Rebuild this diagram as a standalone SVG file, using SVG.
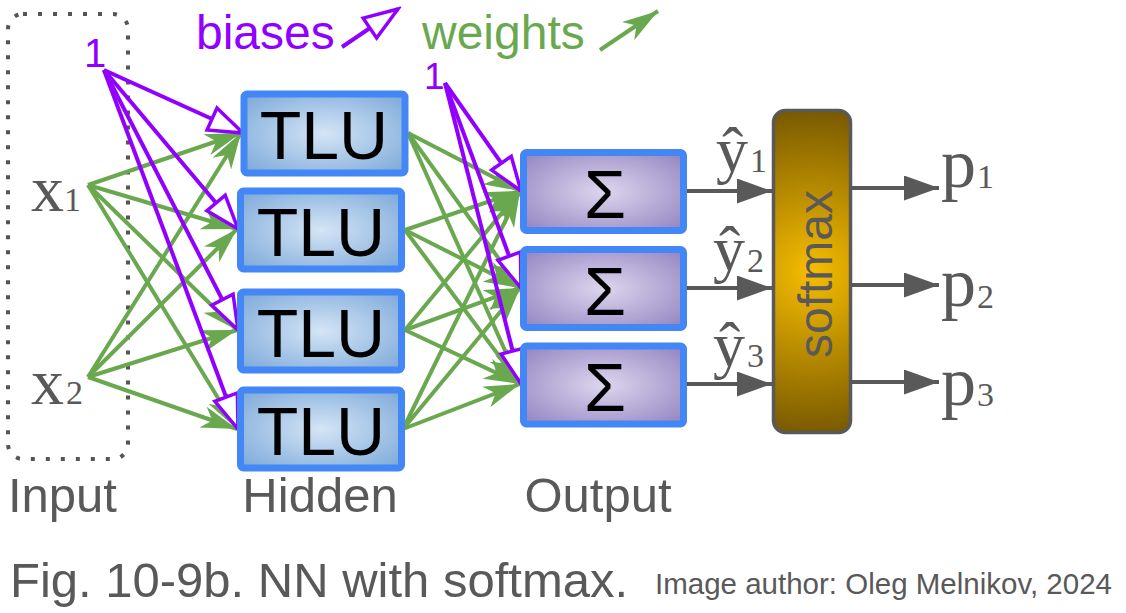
<svg xmlns="http://www.w3.org/2000/svg" width="1126" height="613" viewBox="0 0 1126 613">
<defs>
<radialGradient id="gTLU" cx="0.5" cy="0.5" r="0.75">
<stop offset="0" stop-color="#d4e5f6"/><stop offset="1" stop-color="#74a3d6"/>
</radialGradient>
<radialGradient id="gSig" cx="0.5" cy="0.5" r="0.75">
<stop offset="0" stop-color="#ddd6ee"/><stop offset="1" stop-color="#8c7dbd"/>
</radialGradient>
<radialGradient id="gSoft" gradientUnits="userSpaceOnUse" cx="812" cy="272" r="170">
<stop offset="0" stop-color="#f7bd00"/><stop offset="1" stop-color="#735500"/>
</radialGradient>
<marker id="mg" markerUnits="userSpaceOnUse" viewBox="0 0 36 22" markerWidth="36" markerHeight="22" refX="36" refY="11" orient="auto">
<path d="M0,0 L36,11 L0,22 L10,11 Z" fill="#6aa84f"/>
</marker>
<marker id="mb" markerUnits="userSpaceOnUse" viewBox="-4 -4 42 32" markerWidth="42" markerHeight="32" refX="34" refY="12" orient="auto">
<path d="M0,0 L34,12 L0,24 Z" fill="#fff" stroke="#9100ff" stroke-width="3.5"/>
</marker>
<marker id="ma" markerUnits="userSpaceOnUse" viewBox="0 0 35 25" markerWidth="35" markerHeight="25" refX="35" refY="12.5" orient="auto">
<path d="M0,0 L35,12.5 L0,25 Z" fill="#595959"/>
</marker>
</defs>
<style>
.w{stroke:#6aa84f;stroke-width:4;fill:none;marker-end:url(#mg)}
.b{stroke:#9100ff;stroke-width:4;fill:none;marker-end:url(#mb)}
.o{stroke:#595959;stroke-width:4;fill:none;marker-end:url(#ma)}
.tlu{fill:url(#gTLU);stroke:#4287f5;stroke-width:7}
.sig{fill:url(#gSig);stroke:#4287f5;stroke-width:7}
.sans{font-family:"Liberation Sans",Arial,sans-serif}
.ser{font-family:"Liberation Serif","Times New Roman",serif;fill:#595959}
.lbl{font-family:"Liberation Sans",Arial,sans-serif;font-size:49px;fill:#595959}
.big{font-family:"Liberation Sans",Arial,sans-serif;font-size:68px;fill:#000;text-anchor:middle}
</style>
<rect width="1126" height="613" fill="#fff"/>
<g id="input-box">
<rect x="8" y="14" width="120" height="445" rx="15" fill="none" stroke="#555" stroke-width="4" stroke-dasharray="4 11"/>
</g>
<g id="connectors">
<g id="weights">
<line class="w" x1="88" y1="185" x2="241" y2="133"/>
<line class="w" x1="88" y1="185" x2="237" y2="229"/>
<line class="w" x1="88" y1="185" x2="237" y2="330"/>
<line class="w" x1="88" y1="185" x2="237" y2="429"/>
<line class="w" x1="88" y1="377" x2="241" y2="133"/>
<line class="w" x1="88" y1="377" x2="237" y2="229"/>
<line class="w" x1="88" y1="377" x2="237" y2="330"/>
<line class="w" x1="88" y1="377" x2="237" y2="429"/>
<line class="w" x1="408" y1="133" x2="520" y2="191"/>
<line class="w" x1="408" y1="133" x2="520" y2="288"/>
<line class="w" x1="408" y1="133" x2="520" y2="384"/>
<line class="w" x1="405" y1="230" x2="520" y2="191"/>
<line class="w" x1="405" y1="230" x2="520" y2="288"/>
<line class="w" x1="405" y1="230" x2="520" y2="384"/>
<line class="w" x1="405" y1="330" x2="520" y2="191"/>
<line class="w" x1="405" y1="330" x2="520" y2="288"/>
<line class="w" x1="405" y1="330" x2="520" y2="384"/>
<line class="w" x1="403" y1="429" x2="520" y2="191"/>
<line class="w" x1="403" y1="429" x2="520" y2="288"/>
<line class="w" x1="403" y1="429" x2="520" y2="384"/>
</g>
<g id="biases">
<line class="b" x1="104" y1="70" x2="243" y2="133"/>
<line class="b" x1="104" y1="70" x2="238" y2="229"/>
<line class="b" x1="104" y1="70" x2="238" y2="330"/>
<line class="b" x1="104" y1="70" x2="238" y2="429"/>
<line class="b" x1="445" y1="83" x2="521" y2="191"/>
<line class="b" x1="445" y1="83" x2="521" y2="288"/>
<line class="b" x1="445" y1="83" x2="521" y2="384"/>
</g>
<g id="outputs">
<line class="o" x1="684" y1="191" x2="772" y2="191"/>
<line class="o" x1="684" y1="288" x2="772" y2="288"/>
<line class="o" x1="684" y1="384" x2="772" y2="384"/>
<line class="o" x1="852" y1="188" x2="939" y2="188"/>
<line class="o" x1="852" y1="285" x2="939" y2="285"/>
<line class="o" x1="852" y1="382" x2="939" y2="382"/>
</g>
</g>
<g id="legend">
<text class="sans" x="196" y="49" font-size="48" fill="#9100ff">biases</text>
<line class="b" x1="342" y1="47" x2="398" y2="9"/>
<text class="sans" x="422" y="49" font-size="48" fill="#6aa84f">weights</text>
<line class="w" x1="600" y1="50" x2="658" y2="11"/>
</g>
<g id="bias1"><text class="sans" x="84" y="67" font-size="40" fill="#9100ff">1</text></g>
<g id="bias2"><text class="sans" x="424" y="89" font-size="37" fill="#9100ff">1</text></g>
<g id="x1"><text class="ser" x="31" y="211" font-size="66">x<tspan font-size="34" x="64">1</tspan></text></g>
<g id="x2"><text class="ser" x="31" y="404" font-size="66">x<tspan font-size="34" x="66">2</tspan></text></g>
<g id="tlu1"><rect class="tlu" x="244" y="94" width="161" height="79" rx="3"/><text class="big" x="324" y="159">TLU</text></g>
<g id="tlu2"><rect class="tlu" x="240.5" y="191" width="161" height="78" rx="3"/><text class="big" x="321" y="256">TLU</text></g>
<g id="tlu3"><rect class="tlu" x="240.5" y="292" width="161" height="78" rx="3"/><text class="big" x="321" y="357">TLU</text></g>
<g id="tlu4"><rect class="tlu" x="240.5" y="390" width="161" height="78" rx="3"/><text class="big" x="321" y="455">TLU</text></g>
<g id="sum1"><rect class="sig" x="523.5" y="152.5" width="160" height="78" rx="3"/><text class="big" x="605" y="218">Σ</text></g>
<g id="sum2"><rect class="sig" x="523.5" y="249.5" width="160" height="78" rx="3"/><text class="big" x="605" y="315">Σ</text></g>
<g id="sum3"><rect class="sig" x="523.5" y="346" width="160" height="78" rx="3"/><text class="big" x="605" y="411">Σ</text></g>
<g id="yhat1"><text class="ser" x="716" y="171" font-size="64">ŷ<tspan font-size="34" x="750" y="172">1</tspan></text></g>
<g id="yhat2"><text class="ser" x="713" y="270" font-size="64">ŷ<tspan font-size="34" x="747" y="272">2</tspan></text></g>
<g id="yhat3"><text class="ser" x="713" y="366" font-size="64">ŷ<tspan font-size="34" x="747" y="367">3</tspan></text></g>
<g id="softmax">
<rect x="773.5" y="110.5" width="77" height="322" rx="12" fill="url(#gSoft)" stroke="#595959" stroke-width="3.5"/>
<text class="sans" transform="translate(832,274) rotate(-90)" x="0" y="0" font-size="48" fill="#595959" text-anchor="middle">softmax</text>
</g>
<g id="p1"><text class="ser" x="941" y="187" font-size="70">p<tspan font-size="34" x="977" y="188">1</tspan></text></g>
<g id="p2"><text class="ser" x="941" y="306" font-size="70">p<tspan font-size="34" x="977" y="308">2</tspan></text></g>
<g id="p3"><text class="ser" x="941" y="405" font-size="70">p<tspan font-size="34" x="977" y="406">3</tspan></text></g>
<g id="labels">
<text class="lbl" x="8" y="512">Input</text>
<text class="lbl" x="320" y="512" text-anchor="middle">Hidden</text>
<text class="lbl" x="598" y="512" text-anchor="middle">Output</text>
<text class="lbl" x="10" y="597">Fig. 10-9b. NN with softmax.</text>
<text class="sans" x="655" y="594" font-size="29.5" fill="#595959">Image author: Oleg Melnikov, 2024</text>
</g>
</svg>
